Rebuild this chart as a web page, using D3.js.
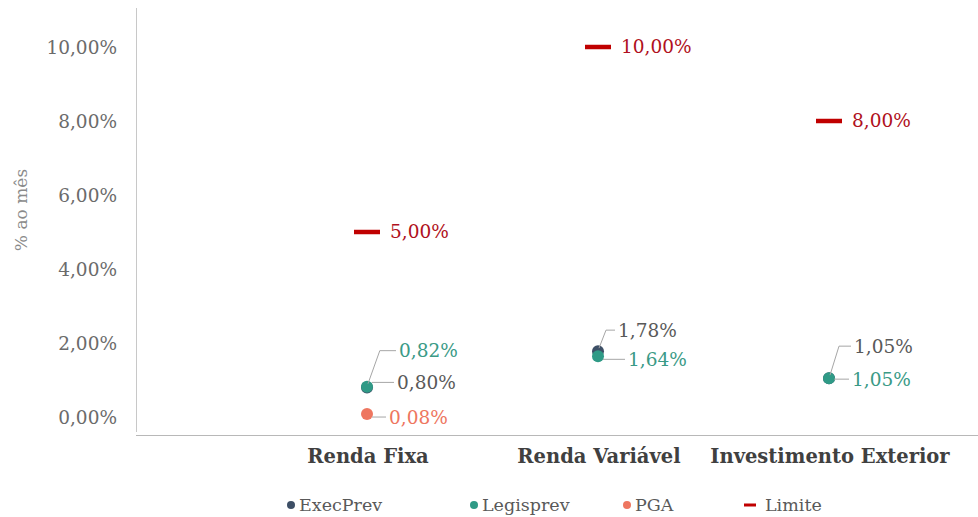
<!DOCTYPE html>
<html><head><meta charset="utf-8">
<script src="https://cdn.jsdelivr.net/npm/d3@7"></script>
<style>body{margin:0;background:#fff}svg{display:block}</style>
</head><body>
<svg id="c" width="978" height="517"></svg>
<script>
const categories = ["Renda Fixa", "Renda Variável", "Investimento Exterior"];
const execPrev = [0.80, 1.78, 1.05];
const legisprev = [0.82, 1.64, 1.05];
const pga = [0.08, null, null];
const limite = [5.00, 10.00, 8.00];
const yTicks = [0, 2, 4, 6, 8, 10];
const seriesNames = ["ExecPrev", "Legisprev", "PGA", "Limite"];

const colors = {ExecPrev: "#3d4f66", Legisprev: "#2f9a86", PGA: "#ee7660", Limite: "#c00000"};
const textColors = {ExecPrev: "#595959", Legisprev: "#3a9a86", PGA: "#ee7660", Limite: "#b01020"};
const font = "'DejaVu Serif', serif";
const fmt = v => v.toFixed(2).replace(".", ",") + "%";

const svg = d3.select("#c");
const x = d3.scaleLinear().domain([0, 3.645]).range([136, 978]);
const y = d3.scaleLinear().domain([-0.5, 11]).range([435.5, 10]);

// axes lines
svg.append("line").attr("x1", 136.5).attr("x2", 136.5).attr("y1", 8).attr("y2", 432)
  .attr("stroke", "#c8c8c8").attr("stroke-width", 1);
svg.append("line").attr("x1", 136).attr("x2", 978).attr("y1", 435.5).attr("y2", 435.5)
  .attr("stroke", "#b8b8b8").attr("stroke-width", 1.2);

// y ticks
const yAxis = d3.axisLeft(y).tickValues(yTicks).tickSize(0).tickPadding(0).tickFormat(fmt);
const ga = svg.append("g").attr("transform", "translate(117,0)").call(yAxis);
ga.select(".domain").remove();
ga.selectAll("text").attr("font-family", font).attr("font-size", 18.5).attr("fill", "#6b6b6b").attr("dy", "0.35em");

// y title
svg.append("text").attr("transform", "translate(27,210) rotate(-90)")
  .attr("text-anchor", "middle").attr("font-family", font).attr("font-size", 17)
  .attr("fill", "#8a8a8a").text("% ao mês");

// category labels
svg.selectAll(".cat").data(categories).enter().append("text")
  .attr("x", (d, i) => x(i + 1) + 1).attr("y", 463).attr("text-anchor", "middle")
  .attr("font-family", font).attr("font-weight", "bold").attr("font-size", 19.5)
  .attr("fill", "#404040").text(d => d);

// limit marks
categories.forEach((c, i) => {
  svg.append("line").attr("x1", x(i + 1) - 13).attr("x2", x(i + 1) + 13)
    .attr("y1", y(limite[i])).attr("y2", y(limite[i]))
    .attr("stroke", colors.Limite).attr("stroke-width", 4.5);
  svg.append("text").attr("x", x(i + 1) + 23).attr("y", y(limite[i])).attr("dy", "0.35em")
    .attr("font-family", font).attr("font-size", 18.5).attr("fill", textColors.Limite)
    .text(fmt(limite[i]));
});

// points
function drawPoints(vals, name) {
  vals.forEach((v, i) => {
    if (v == null) return;
    svg.append("circle").attr("cx", x(i + 1)).attr("cy", y(v)).attr("r", 6)
      .attr("fill", colors[name]);
  });
}
drawPoints(pga, "PGA");
drawPoints(execPrev, "ExecPrev");
drawPoints(legisprev, "Legisprev");

// data labels with leader lines
const labelLayout = [
  {s: "Legisprev", vals: legisprev, i: 0, dx: 32, ly: -36, elbow: true},
  {s: "ExecPrev", vals: execPrev, i: 0, dx: 30, ly: -5, elbow: false},
  {s: "PGA", vals: pga, i: 0, dx: 22, ly: 3, elbow: false},
  {s: "ExecPrev", vals: execPrev, i: 1, dx: 20, ly: -21, elbow: true},
  {s: "Legisprev", vals: legisprev, i: 1, dx: 30, ly: 3, elbow: false},
  {s: "ExecPrev", vals: execPrev, i: 2, dx: 25, ly: -32, elbow: true},
  {s: "Legisprev", vals: legisprev, i: 2, dx: 23, ly: 1, elbow: false},
];
labelLayout.forEach(L => {
  const v = L.vals[L.i];
  const px = x(L.i + 1), py = y(v);
  const tx = px + L.dx, ty = py + L.ly;
  let path;
  if (L.elbow) {
    path = `M${px + 1},${py - 3} L${px + (L.dx * 0.4)},${ty} L${tx - 3},${ty}`;
  } else {
    path = `M${px + 5},${ty} L${tx - 3},${ty}`;
  }
  svg.append("path").attr("d", path).attr("fill", "none").attr("stroke", "#a6a6a6").attr("stroke-width", 1);
  svg.append("text").attr("x", tx).attr("y", ty).attr("dy", "0.35em")
    .attr("font-family", font).attr("font-size", 18.5).attr("fill", textColors[L.s]).text(fmt(v));
});

// legend
const legX = [287, 470, 623, 744];
seriesNames.forEach((n, k) => {
  const g = svg.append("g").attr("transform", `translate(${legX[k]},505)`);
  if (n === "Limite") {
    g.append("line").attr("x1", 0).attr("x2", 12).attr("y1", 0).attr("y2", 0)
      .attr("stroke", colors.Limite).attr("stroke-width", 3);
    g.append("text").attr("x", 21).attr("dy", "0.35em").attr("font-family", font)
      .attr("font-size", 17.5).attr("fill", "#595959").text(n);
  } else {
    g.append("circle").attr("cx", 4).attr("r", 4).attr("fill", colors[n]);
    g.append("text").attr("x", 12).attr("dy", "0.35em").attr("font-family", font)
      .attr("font-size", 17.5).attr("fill", "#595959").text(n);
  }
});
</script>
</body></html>
